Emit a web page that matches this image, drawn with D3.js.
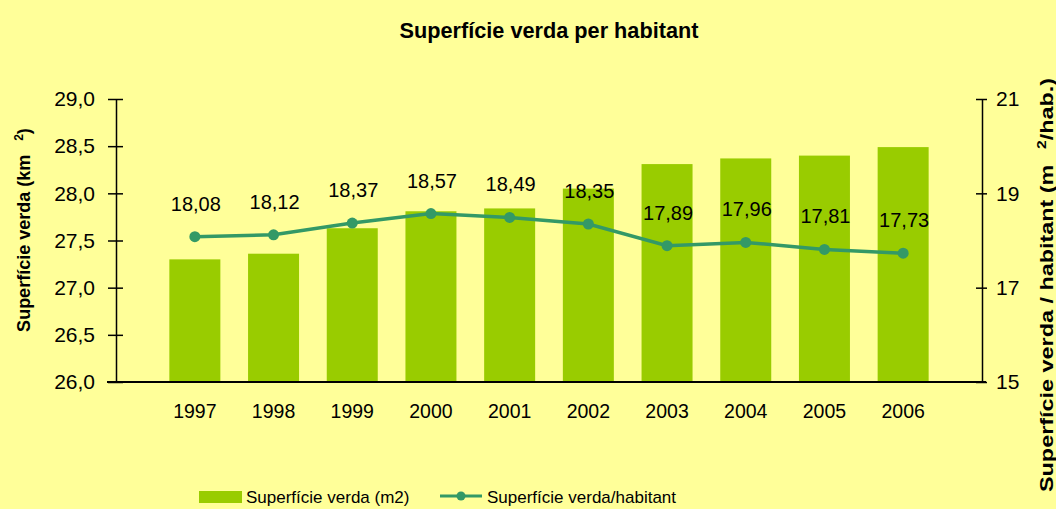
<!DOCTYPE html>
<html>
<head>
<meta charset="utf-8">
<script src="https://cdn.jsdelivr.net/npm/d3@7"></script>
<style>
  html, body { margin: 0; padding: 0; background: #FFFF99; }
  svg { display: block; }
  text { font-family: "Liberation Sans", Arial, sans-serif; fill: #000; }
</style>
</head>
<body>
<svg id="chart" width="1056" height="509"></svg>
<script>
const years = ["1997","1998","1999","2000","2001","2002","2003","2004","2005","2006"];
const surface = [27.30, 27.36, 27.63, 27.81, 27.84, 28.05, 28.31, 28.37, 28.40, 28.49];
const perHab = [18.08, 18.12, 18.37, 18.57, 18.49, 18.35, 17.89, 17.96, 17.81, 17.73];
const perHabLabels = ["18,08","18,12","18,37","18,57","18,49","18,35","17,89","17,96","17,81","17,73"];
const leftTicks = [26.0, 26.5, 27.0, 27.5, 28.0, 28.5, 29.0];
const rightTicks = [15, 17, 19, 21];
const title = "Superfície verda per habitant";
const legendLabels = ["Superfície verda (m2)", "Superfície verda/habitant"];

const W = 1056, H = 509;
const pLeft = 116, pRight = 982, pTop = 99, pBottom = 382;
const barColor = "#99CC00", lineColor = "#339966";

const svg = d3.select("#chart");
svg.append("rect").attr("width", W).attr("height", H).attr("fill", "#FFFF99");

const x = d3.scaleBand().domain(years).range([pLeft, pRight]).paddingInner(0.352).paddingOuter(0.678);
const yL = d3.scaleLinear().domain([26, 29]).range([pBottom, pTop]);
const yR = d3.scaleLinear().domain([15, 21]).range([pBottom, pTop]);

// title
svg.append("text").attr("x", 549).attr("y", 38).attr("text-anchor", "middle")
  .attr("font-weight", "bold").attr("font-size", 21.7).text(title);

// bars
svg.append("g").selectAll("rect").data(years).join("rect")
  .attr("x", d => x(d)).attr("width", x.bandwidth())
  .attr("y", (d, i) => yL(surface[i])).attr("height", (d, i) => pBottom - yL(surface[i]))
  .attr("fill", barColor);

// left axis
const gL = svg.append("g").attr("transform", `translate(${pLeft},0)`)
  .call(d3.axisLeft(yL).tickValues(leftTicks).tickSize(0).tickFormat(d => d3.format(".1f")(d).replace(".", ",")));
gL.select(".domain").attr("stroke", "#000").attr("stroke-width", 1.5);
gL.selectAll(".tick line").remove();
gL.selectAll(".tick").append("line").attr("x1", -8).attr("x2", 7).attr("stroke", "#000").attr("stroke-width", 1.5);
gL.selectAll(".tick text").attr("x", -21).attr("font-size", 21).attr("fill", "#000")
  .style("font-family", '"Liberation Sans", Arial, sans-serif');

// right axis
const gR = svg.append("g").attr("transform", `translate(${pRight},0)`)
  .call(d3.axisRight(yR).tickValues(rightTicks).tickSize(0).tickFormat(d3.format("d")));
gR.select(".domain").attr("stroke", "#000").attr("stroke-width", 1.5);
gR.selectAll(".tick line").remove();
gR.selectAll(".tick").append("line").attr("x1", -6).attr("x2", 5).attr("stroke", "#000").attr("stroke-width", 1.5);
gR.selectAll(".tick text").attr("x", 14).attr("font-size", 21).attr("fill", "#000")
  .style("font-family", '"Liberation Sans", Arial, sans-serif');

// bottom axis
const gB = svg.append("g").attr("transform", `translate(0,${pBottom})`)
  .call(d3.axisBottom(x).tickSize(0));
gB.select(".domain").remove();
gB.append("line").attr("x1", pLeft - 9).attr("x2", pRight + 4).attr("stroke", "#000").attr("stroke-width", 2);
gB.selectAll(".tick text").attr("y", 22).attr("dy", "0.71em").attr("font-size", 19.5).attr("fill", "#000")
  .style("font-family", '"Liberation Sans", Arial, sans-serif');

// line
const cx = d => x(d) + x.bandwidth() / 2;
const line = d3.line().x((d, i) => cx(years[i])).y(d => yR(d));
svg.append("path").datum(perHab).attr("d", line).attr("fill", "none")
  .attr("stroke", lineColor).attr("stroke-width", 3.5);
svg.append("g").selectAll("circle").data(perHab).join("circle")
  .attr("cx", (d, i) => cx(years[i])).attr("cy", d => yR(d)).attr("r", 5.5).attr("fill", lineColor);

// data labels
svg.append("g").selectAll("text").data(perHab).join("text")
  .attr("x", (d, i) => cx(years[i]) + 1).attr("y", d => yR(d) - 26)
  .attr("text-anchor", "middle").attr("font-size", 20).text((d, i) => perHabLabels[i]);

// left axis title
const lt = svg.append("text").attr("transform", "translate(30,230) rotate(-90)")
  .attr("text-anchor", "middle").attr("font-weight", "bold").attr("font-size", 18);
lt.append("tspan").text("Superfície verda (km");
lt.append("tspan").attr("dx", 14).attr("dy", -7).attr("font-size", 12).text("2");
lt.append("tspan").attr("dy", 7).text(")");

// right axis title
const rt = svg.append("text").attr("transform", "translate(1053,285) rotate(-90) scale(1.3,1)")
  .attr("text-anchor", "middle").attr("font-weight", "bold").attr("font-size", 18);
rt.append("tspan").text("Superfície verda / habitant (m");
rt.append("tspan").attr("dx", 12).attr("dy", -7).attr("font-size", 12).text("2");
rt.append("tspan").attr("dy", 7).text("/hab.)");

// legend
const lg = svg.append("g");
lg.append("rect").attr("x", 199).attr("y", 491).attr("width", 43).attr("height", 12).attr("fill", barColor);
lg.append("text").attr("x", 246).attr("y", 503).attr("font-size", 17).text(legendLabels[0]);
lg.append("line").attr("x1", 440).attr("x2", 482).attr("y1", 496).attr("y2", 496)
  .attr("stroke", lineColor).attr("stroke-width", 3);
lg.append("circle").attr("cx", 461).attr("cy", 496).attr("r", 4.5).attr("fill", lineColor);
lg.append("text").attr("x", 487).attr("y", 503).attr("font-size", 17).text(legendLabels[1]);
</script>
</body>
</html>
